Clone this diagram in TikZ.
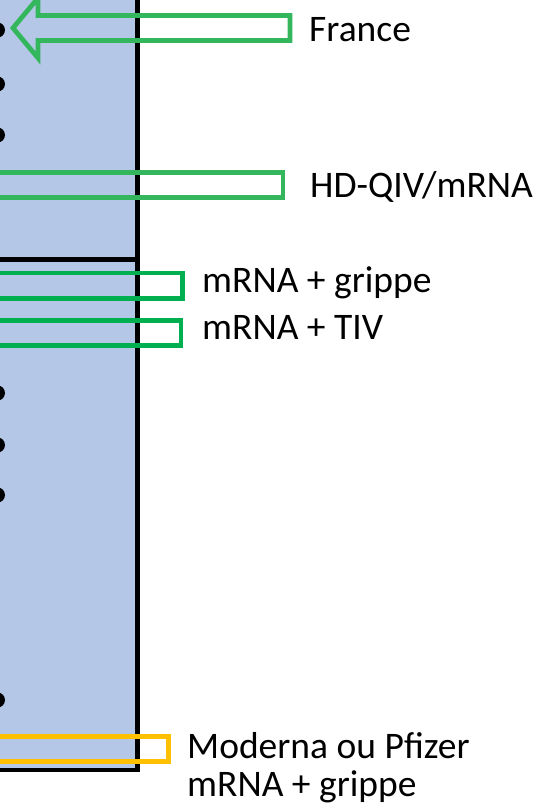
\documentclass[tikz,border=0pt]{standalone}
\usepackage{fontspec}
\setmainfont{Carlito}
\definecolor{panelblue}{HTML}{B4C7E7}
\definecolor{lightgreen}{HTML}{34B75C}
\definecolor{darkgreen}{HTML}{00B050}
\definecolor{gold}{HTML}{FFC000}
\tikzset{
  lbl/.style={anchor=base west,inner sep=0pt,font=\fontsize{37.5}{38}\selectfont,text=black},
  outline/.style={line width=4.8pt,line join=miter},
  bullet/.style={fill=black},
  border/.style={line width=4.8pt,draw=black}
}
\begin{document}
\begin{tikzpicture}[x=1pt,y=-1pt]
\useasboundingbox (0,0) rectangle (538,808);
\clip (0,0) rectangle (538,808);
% panel
\fill[panelblue] (-10,-10) rectangle (137.5,770);
\draw[border] (-10,259.5) -- (137.5,259.5);
\draw[border,line join=miter] (137.5,-10) -- (137.5,770) -- (-10,770);
% bullets
\foreach \yy in {30,84,135,393,445,495,700}
  \fill[bullet] (-2.5,\yy) circle (7.5);
% France arrow
\draw[outline,draw=lightgreen] (38,15.5) -- (38,-2) -- (13,28) -- (38,58) -- (38,40.5) -- (290,40.5) -- (290,15.5) -- cycle;
% boxes
\draw[outline,draw=lightgreen] (-10,172.5) rectangle (283,197.5);
\draw[outline,draw=darkgreen] (-10,273) rectangle (182.5,298.5);
\draw[outline,draw=darkgreen] (-10,320.5) rectangle (181,345.5);
\draw[outline,draw=gold] (-10,736.5) rectangle (168.5,761.5);
% labels
\node[lbl] (france) at (309,42) {France};
\node[lbl] (hdqiv) at (310,197.5) {HD-QIV/mRNA};
\node[lbl] (grippe) at (202,292) {mRNA + grippe};
\node[lbl] (tiv) at (202,339.5) {mRNA + TIV};
\node[lbl] (moderna) at (187,758.5) {Moderna ou Pfizer};
\node[lbl] (grippeb) at (187,796) {mRNA + grippe};
\end{tikzpicture}
\end{document}
